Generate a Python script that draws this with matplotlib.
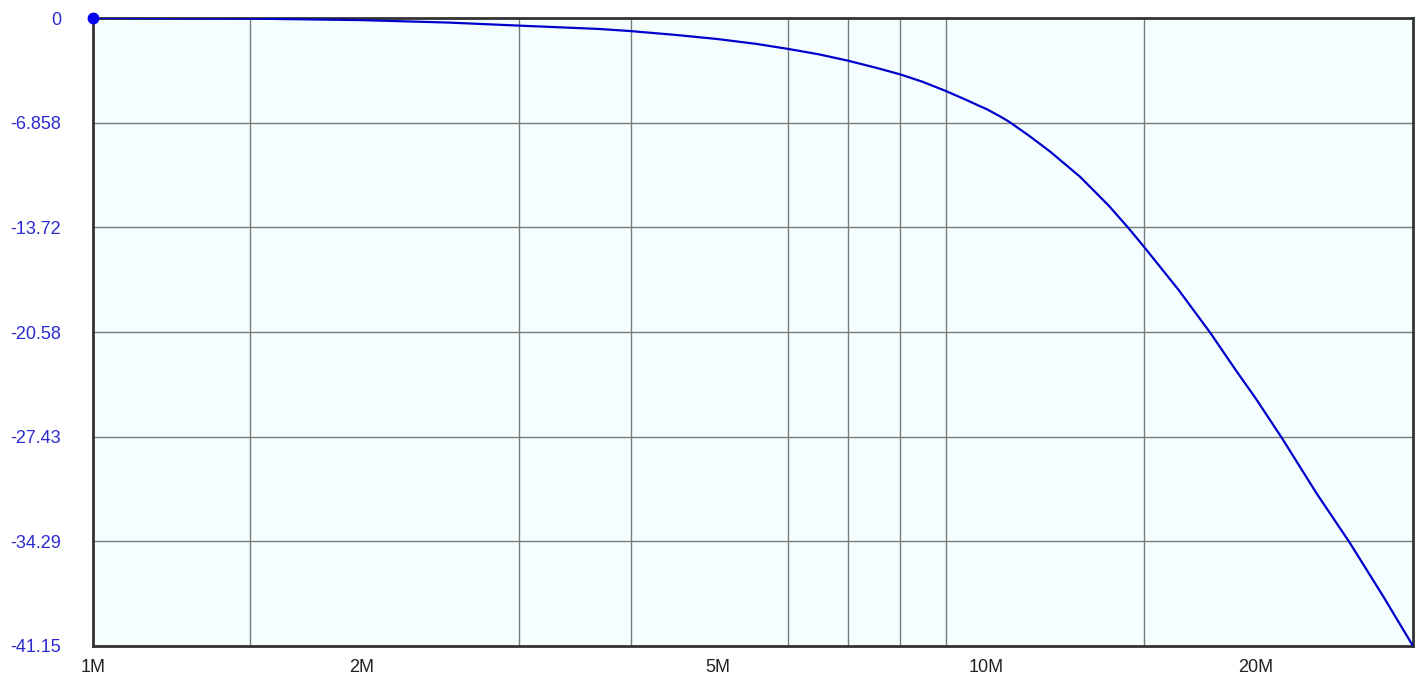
import numpy as np
import matplotlib.pyplot as plt
from matplotlib.ticker import FixedLocator, NullFormatter

plt.rcParams['font.family'] = ['Liberation Sans', 'DejaVu Sans']

# frequency (MHz) and gain (dB)
freq_mhz = [1, 1.5, 2, 2.5, 3, 3.69, 4, 4.49, 5, 5.53, 6, 6.49, 7, 7.52, 8,
            8.47, 9, 9.49, 9.83, 10, 10.34, 10.6, 11.17, 11.77, 12.72, 13.7,
            14.4, 15, 16.4, 17.8, 19.0, 20, 21.4, 23.4, 25.5, 27.8, 30]
gain_db = [0, -0.04, -0.14, -0.30, -0.50, -0.72, -0.86, -1.11, -1.38, -1.70,
           -2.03, -2.38, -2.80, -3.26, -3.69, -4.17, -4.78, -5.37, -5.78,
           -5.97, -6.43, -6.80, -7.74, -8.74, -10.40, -12.30, -13.74, -14.99,
           -17.82, -20.64, -23.07, -24.92, -27.52, -31.15, -34.40, -37.92,
           -41.15]

y_ticks = [0, -6.858, -13.72, -20.58, -27.43, -34.29, -41.15]
y_labels = ['0', '-6.858', '-13.72', '-20.58', '-27.43', '-34.29', '-41.15']
x_ticks = [1, 2, 5, 10, 20]
x_labels = ['1M', '2M', '5M', '10M', '20M']
x_grid = [1, 1.5, 2, 3, 4, 5, 6, 7, 8, 9, 10, 15, 20]

fig = plt.figure(figsize=(14.24, 6.81), dpi=100)
ax = fig.add_axes([93/1424, 1-646/681, 1320/1424, 628/681])
ax.set_facecolor('#f5fefe')

ax.plot(freq_mhz, gain_db, color='#0000cc', lw=1.6, zorder=3)
ax.plot(freq_mhz[0], gain_db[0], 'o', color='#0000ee', ms=7.5, clip_on=False, zorder=4)

ax.set_xscale('log')
ax.set_xlim(1, 30)
ax.set_ylim(-41.15, 0)

ax.xaxis.set_major_locator(FixedLocator(x_ticks))
ax.xaxis.set_minor_locator(FixedLocator(x_grid))
ax.xaxis.set_minor_formatter(NullFormatter())
ax.set_xticklabels(x_labels)
ax.set_yticks(y_ticks)
ax.set_yticklabels(y_labels)

ax.grid(True, which='minor', axis='x', color='#7a7a7a', lw=1)
ax.grid(True, which='major', axis='y', color='#7a7a7a', lw=1)
ax.set_axisbelow(True)

ax.tick_params(axis='both', which='both', length=0)
ax.tick_params(axis='y', labelcolor='#2b2bd0', labelsize=13, pad=23)
ax.tick_params(axis='x', labelcolor='#222222', labelsize=13, pad=9)

for s in ax.spines.values():
    s.set_color('#333333')
    s.set_linewidth(2)

fig.savefig('out.png', dpi=100)
